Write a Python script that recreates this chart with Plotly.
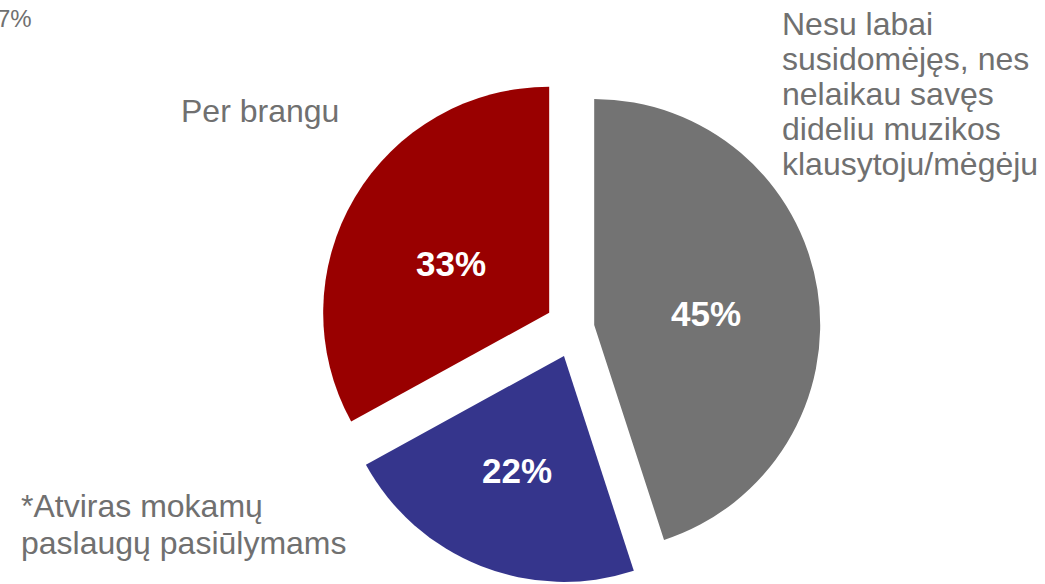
import plotly.graph_objects as go

# Data
labels = [
    "Nesu labai susidomėjęs, nes nelaikau savęs dideliu muzikos klausytoju/mėgėju",
    "*Atviras mokamų paslaugų pasiūlymams",
    "Per brangu",
]
label_lines = [
    ["Nesu labai", "susidomėjęs, nes", "nelaikau savęs", "dideliu muzikos", "klausytoju/mėgėju"],
    ["*Atviras mokamų", "paslaugų pasiūlymams"],
    ["Per brangu"],
]
values = [45, 22, 33]
colors = ["#737373", "#35358C", "#990000"]
pulls = [0.086, 0.1327, 0.1327]

W, H = 1045, 584
FONT = "Arial, Liberation Sans, sans-serif"
TEXT_GREY = "#707070"

# pie geometry in pixels
cx, cy, r = 575, 328, 226
R = r * (1 + max(pulls))
dom_x = [(cx - R) / W, (cx + R) / W]
dom_y = [0, 2 * (H - cy) / H]

fig = go.Figure(go.Pie(
    labels=labels,
    values=values,
    marker=dict(colors=colors, line=dict(width=0)),
    pull=pulls,
    sort=False,
    direction="clockwise",
    rotation=0,
    textinfo="none",
    domain=dict(x=dom_x, y=dom_y),
    hoverinfo="label+percent",
))

# percentage labels inside the slices
pct_pos = [(706, 312), (517, 470), (451, 262)]  # centre px
for v, (px_, py_) in zip(values, pct_pos):
    fig.add_annotation(
        x=px_ / W, y=1 - (py_ + 1) / H, xref="paper", yref="paper",
        text=f"{v}%", showarrow=False, xanchor="center", yanchor="middle",
        font=dict(family=FONT, size=35, color="white", weight="bold"),
    )

# category labels, one annotation per line
label_pos = [(780, 35), (19, 517), (179, 122)]  # left x, first baseline (px)
line_gap = [35, 37, 0]
for lines, (lx, by), gap in zip(label_lines, label_pos, line_gap):
    for i, line in enumerate(lines):
        base = by + i * gap
        fig.add_annotation(
            x=lx / W, y=1 - (base - 11) / H, xref="paper", yref="paper",
            text=line, showarrow=False, xanchor="left", yanchor="middle",
            font=dict(family=FONT, size=32, color=TEXT_GREY),
        )

# cropped leftover label at top-left
fig.add_annotation(
    x=34 / W, y=1 - 18 / H, xref="paper", yref="paper",
    text="7%", showarrow=False, xanchor="right", yanchor="middle",
    font=dict(family=FONT, size=24, color=TEXT_GREY),
)

fig.update_layout(
    width=W, height=H,
    margin=dict(l=0, r=0, t=0, b=0),
    paper_bgcolor="white",
    plot_bgcolor="white",
    showlegend=False,
)

fig.write_html(
    "out.html",
    config={"displayModeBar": False},
    post_script="document.body.style.margin = '0';",
)
